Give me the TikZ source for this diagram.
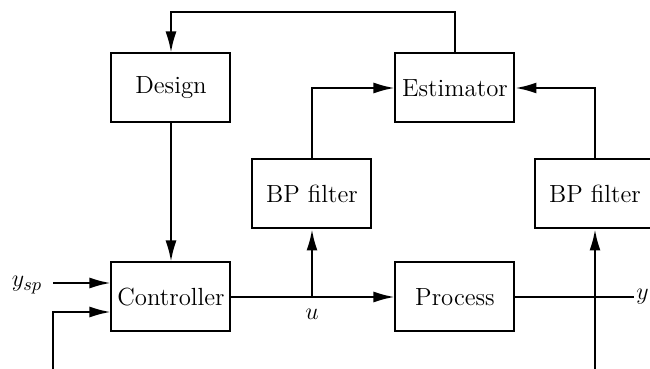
\documentclass[tikz,border=0pt]{standalone}
\usetikzlibrary{arrows.meta}

\begin{document}
\begin{tikzpicture}[
    x=0.5pt, y=-0.5pt, font=\fontsize{12.4}{15}\selectfont,
    blk/.style={draw, line width=1pt, minimum width=59.5pt,
                minimum height=34.5pt, inner sep=2pt},
    sig/.style={-{Latex[length=10.5pt, width=5.5pt]}, line width=1pt},
    wire/.style={line width=1pt},
    lbl/.style={inner sep=1pt},
]
\useasboundingbox (0,0) rectangle (650,369);

% ===================== Bloques superiores =====================
\node[blk] (des) at (171,88) {Design};
\node[blk] (est) at (455,88) {Estimator};

% ===================== Filtros paso banda =====================
\node[blk] (bpl) at (312,194) {BP filter};
\node[blk] (bpr) at (595,194) {BP filter};

% ===================== Lazo de control =====================
\node[blk] (ctl) at (171,297) {Controller};
\node[blk] (prc) at (455,297) {Process};

% ===================== Puntos libres =====================
\coordinate (br)   at (312,297);
\coordinate (yout) at (634,297);
\coordinate (spin) at (53,283);
\coordinate (fbl)  at (53,369);
\coordinate (fbr)  at (595,369);

% ===================== Adaptación =====================
\draw[sig] (est.north) -- ++(0,-40) -| (des.north);
\draw[sig] (des.south) -- (ctl.north);
\draw[sig] (bpl.north) |- (est.west);
\draw[sig] (bpr.north) |- (est.east);

% ===================== Señal de control =====================
\draw[sig] (ctl.east) -- (prc.west);
\draw[sig] (br) -- (bpl.south);
\node[lbl, below=5pt] at (br) {$u$};

% ===================== Salida =====================
\draw[wire] (prc.east) -- (yout);
\node[lbl, anchor=west] at (yout) {$y$};
\draw[sig] (fbr) -- (bpr.south);

% ===================== Entradas del controlador =====================
\node[lbl] (ysp) at (27,285) {$y_{sp}$};
\draw[sig] (spin) -- ([yshift=7pt]ctl.west);
\draw[sig] (fbl) |- ([yshift=-7.5pt]ctl.west);

\end{tikzpicture}
\end{document}
